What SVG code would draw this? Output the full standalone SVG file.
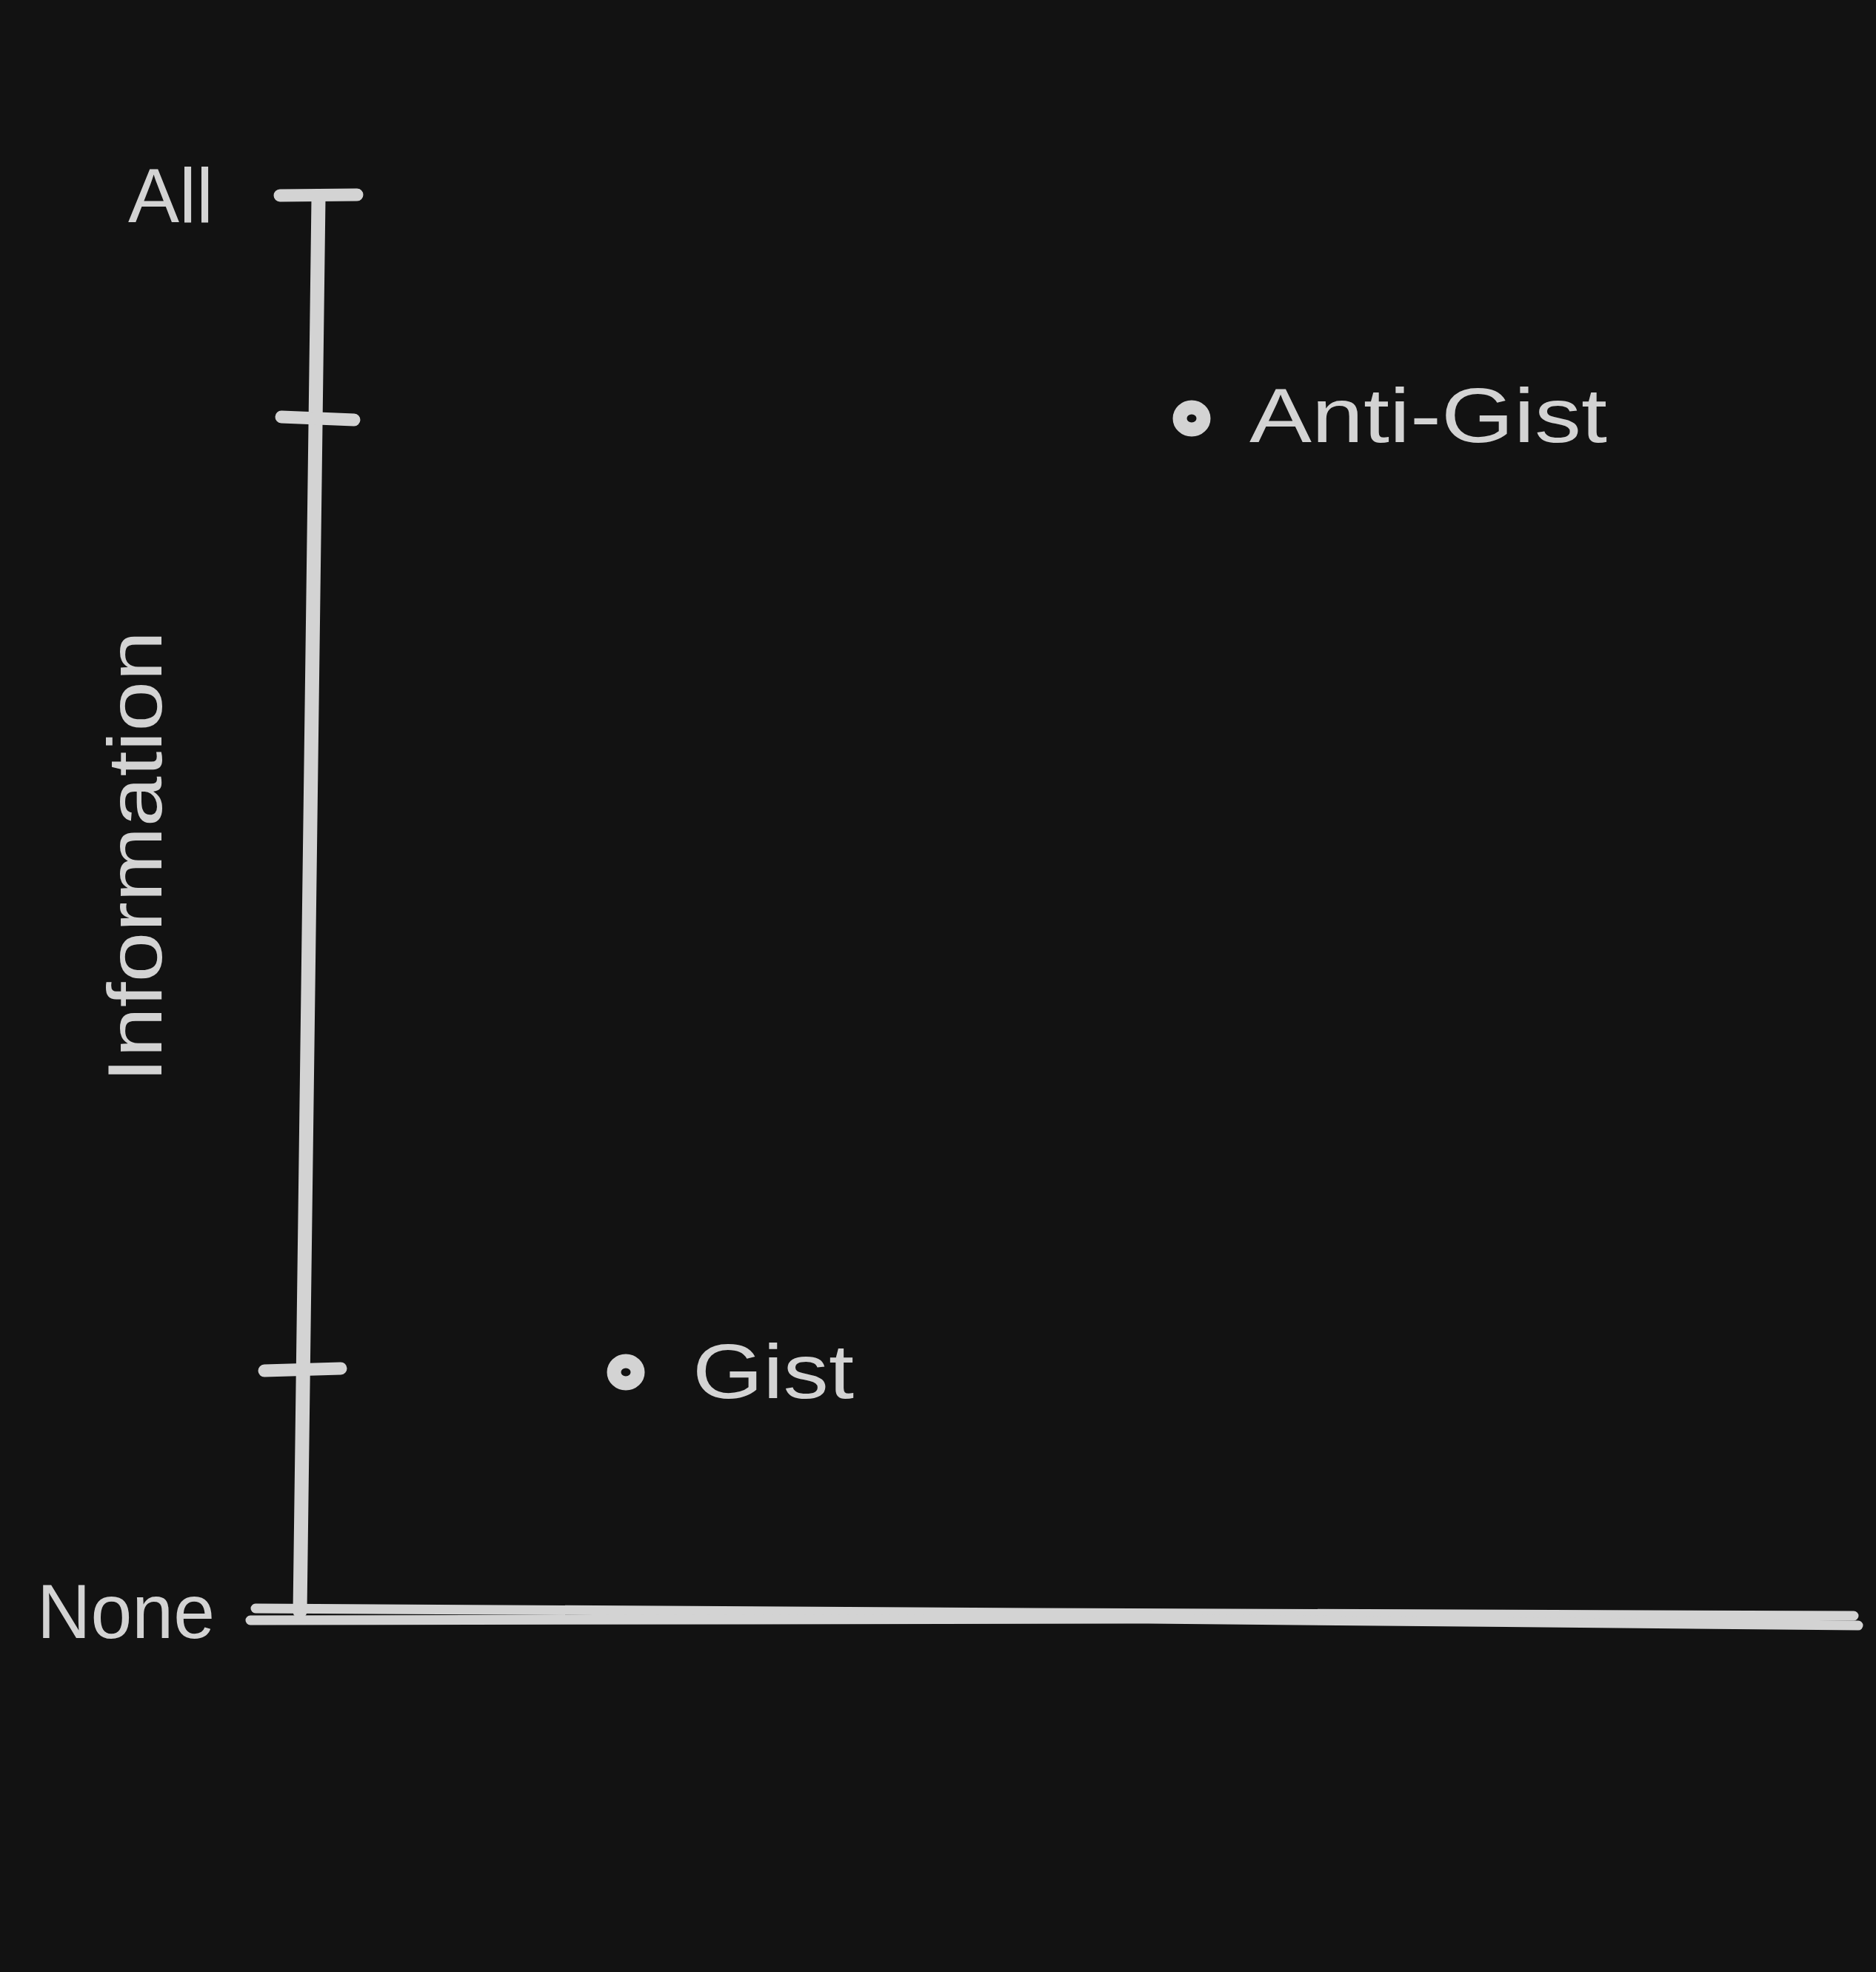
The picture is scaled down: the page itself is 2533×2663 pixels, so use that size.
<svg xmlns="http://www.w3.org/2000/svg" width="2533" height="2663" viewBox="0 0 2533 2663">
<style>
.ax{stroke:#d3d3d3;fill:none;stroke-linecap:round;stroke-linejoin:round}
.t{font-family:"Liberation Sans","DejaVu Sans",sans-serif;fill:#d3d3d3;font-size:104px}
.dot{fill:none;stroke:#d3d3d3;stroke-width:19}
</style>
<rect width="2533" height="2663" fill="#121212"/>
<g id="connectors">
<path class="ax" stroke-width="19" d="M430,268 L405,2176"/>
<path class="ax" stroke-width="17" d="M378,264 L482,263"/>
<path class="ax" stroke-width="17" d="M380,563 L478,567"/>
<path class="ax" stroke-width="17" d="M357,1851 L460,1848"/>
<path class="ax" stroke-width="13" d="M345,2172 L1400,2178 L2503,2182"/>
<path class="ax" stroke-width="13" d="M338,2188 L1550,2186 L2509,2195"/>
</g>
<g id="label-all"><text class="t" x="173" y="300" textLength="115" lengthAdjust="spacingAndGlyphs">All</text></g>
<g id="label-none"><text class="t" x="50" y="2212" textLength="240" lengthAdjust="spacingAndGlyphs">None</text></g>
<g id="label-information"><text class="t" transform="translate(218,1462) rotate(-90)" x="0" y="0" textLength="610" lengthAdjust="spacingAndGlyphs">Information</text></g>
<g id="node-anti-gist">
<ellipse class="dot" cx="1609" cy="565" rx="16" ry="15"/>
<text class="t" x="1687" y="597" textLength="483" lengthAdjust="spacingAndGlyphs">Anti-Gist</text>
</g>
<g id="node-gist">
<ellipse class="dot" cx="845" cy="1853" rx="16" ry="15"/>
<text class="t" x="935" y="1888" textLength="218" lengthAdjust="spacingAndGlyphs">Gist</text>
</g>
</svg>
